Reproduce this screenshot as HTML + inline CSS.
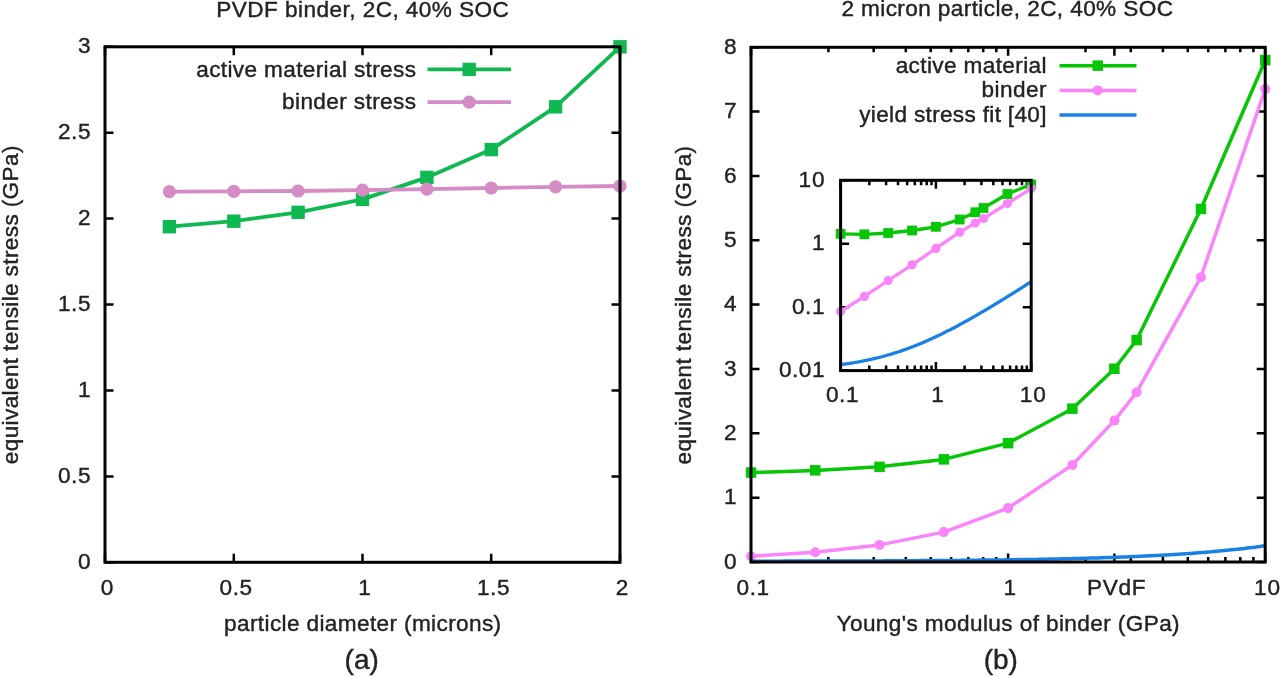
<!DOCTYPE html>
<html><head><meta charset="utf-8"><style>
html,body{margin:0;padding:0;background:#fff;width:1280px;height:677px;overflow:hidden}
svg{display:block}
#w{width:1280px;height:677px;will-change:transform}
text{font-family:"Liberation Sans",sans-serif;stroke:#222;stroke-width:0.4;paint-order:stroke}
</style></head><body><div id="w">
<svg width="1280" height="677" viewBox="0 0 1280 677" font-family="Liberation Sans, sans-serif" fill="#222"><rect width="1280" height="677" fill="#fff"/><g><path d="M105.0,562.3v-8.5M105.0,46.8v8.5M233.8,562.3v-8.5M233.8,46.8v8.5M362.5,562.3v-8.5M362.5,46.8v8.5M491.2,562.3v-8.5M491.2,46.8v8.5M620.0,562.3v-8.5M620.0,46.8v8.5M105,562.3h8.5M620,562.3h-8.5M105,476.4h8.5M620,476.4h-8.5M105,390.5h8.5M620,390.5h-8.5M105,304.5h8.5M620,304.5h-8.5M105,218.6h8.5M620,218.6h-8.5M105,132.7h8.5M620,132.7h-8.5M105,46.8h8.5M620,46.8h-8.5" stroke="#000" stroke-width="2.5" fill="none"/><polyline points="169.4,226.7 233.8,221.2 298.1,212.3 362.5,199.4 426.9,177.4 491.2,149.6 555.6,106.8 620.0,46.8" fill="none" stroke="#10b852" stroke-width="3.8" stroke-linejoin="round" stroke-linecap="butt"/><rect x="162.7" y="220.0" width="13.4" height="13.4" fill="#10b852"/><rect x="227.1" y="214.5" width="13.4" height="13.4" fill="#10b852"/><rect x="291.4" y="205.6" width="13.4" height="13.4" fill="#10b852"/><rect x="355.8" y="192.7" width="13.4" height="13.4" fill="#10b852"/><rect x="420.2" y="170.7" width="13.4" height="13.4" fill="#10b852"/><rect x="484.6" y="142.9" width="13.4" height="13.4" fill="#10b852"/><rect x="548.9" y="100.1" width="13.4" height="13.4" fill="#10b852"/><rect x="613.3" y="40.1" width="13.4" height="13.4" fill="#10b852"/><polyline points="169.4,191.7 233.8,191.3 298.1,191.0 362.5,190.1 426.9,189.2 491.2,188.0 555.6,186.8 620.0,186.0" fill="none" stroke="#d58cc4" stroke-width="3.8" stroke-linejoin="round" stroke-linecap="butt"/><circle cx="169.4" cy="191.7" r="6.6" fill="#d58cc4"/><circle cx="233.8" cy="191.3" r="6.6" fill="#d58cc4"/><circle cx="298.1" cy="191.0" r="6.6" fill="#d58cc4"/><circle cx="362.5" cy="190.1" r="6.6" fill="#d58cc4"/><circle cx="426.9" cy="189.2" r="6.6" fill="#d58cc4"/><circle cx="491.2" cy="188.0" r="6.6" fill="#d58cc4"/><circle cx="555.6" cy="186.8" r="6.6" fill="#d58cc4"/><circle cx="620.0" cy="186.0" r="6.6" fill="#d58cc4"/><rect x="105" y="46.8" width="515" height="515.5" fill="none" stroke="#000" stroke-width="3"/><text x="90.5" y="568.9" text-anchor="end" font-size="22.6" >0</text><text x="90.5" y="483.0" text-anchor="end" font-size="22.6" textLength="32.53" lengthAdjust="spacing" >0.5</text><text x="90.5" y="397.1" text-anchor="end" font-size="22.6" >1</text><text x="90.5" y="311.1" text-anchor="end" font-size="22.6" textLength="32.53" lengthAdjust="spacing" >1.5</text><text x="90.5" y="225.2" text-anchor="end" font-size="22.6" >2</text><text x="90.5" y="139.3" text-anchor="end" font-size="22.6" textLength="32.53" lengthAdjust="spacing" >2.5</text><text x="90.5" y="53.4" text-anchor="end" font-size="22.6" >3</text><text x="107.0" y="594.5" text-anchor="middle" font-size="22.6" >0</text><text x="235.8" y="594.5" text-anchor="middle" font-size="22.6" textLength="32.53" lengthAdjust="spacing" >0.5</text><text x="364.5" y="594.5" text-anchor="middle" font-size="22.6" >1</text><text x="493.2" y="594.5" text-anchor="middle" font-size="22.6" textLength="32.53" lengthAdjust="spacing" >1.5</text><text x="622.0" y="594.5" text-anchor="middle" font-size="22.6" >2</text><text x="362.6" y="16.5" text-anchor="middle" font-size="22.6" textLength="292.63" lengthAdjust="spacing" >PVDF binder, 2C, 40% SOC</text><text x="362.6" y="631.0" text-anchor="middle" font-size="22.6" textLength="276.98" lengthAdjust="spacing" >particle diameter (microns)</text><text x="361.7" y="669.0" text-anchor="middle" font-size="28" >(a)</text><text x="0.0" y="0.0" text-anchor="middle" font-size="22.6" textLength="318.64" lengthAdjust="spacing" transform="translate(17.8,304.9) rotate(-90)">equivalent tensile stress (GPa)</text><text x="416.0" y="76.8" text-anchor="end" font-size="22.6" textLength="219.77" lengthAdjust="spacing" >active material stress</text><text x="416.0" y="109.0" text-anchor="end" font-size="22.6" textLength="133.96" lengthAdjust="spacing" >binder stress</text><polyline points="427.5,69.4 511.0,69.4" fill="none" stroke="#10b852" stroke-width="3.8" stroke-linejoin="round" stroke-linecap="butt"/><rect x="462.5" y="62.7" width="13.4" height="13.4" fill="#10b852"/><polyline points="427.5,102.2 511.0,102.2" fill="none" stroke="#d58cc4" stroke-width="3.8" stroke-linejoin="round" stroke-linecap="butt"/><circle cx="469.2" cy="102.2" r="6.6" fill="#d58cc4"/><path d="M828.4,562v-5M828.4,47.3v5M873.7,562v-5M873.7,47.3v5M905.8,562v-5M905.8,47.3v5M930.7,562v-5M930.7,47.3v5M951.1,562v-5M951.1,47.3v5M968.3,562v-5M968.3,47.3v5M983.2,562v-5M983.2,47.3v5M996.3,562v-5M996.3,47.3v5M1085.5,562v-5M1085.5,47.3v5M1130.8,562v-5M1130.8,47.3v5M1162.9,562v-5M1162.9,47.3v5M1187.8,562v-5M1187.8,47.3v5M1208.2,562v-5M1208.2,47.3v5M1225.4,562v-5M1225.4,47.3v5M1240.3,562v-5M1240.3,47.3v5M1253.4,562v-5M1253.4,47.3v5M751.0,562v-8.5M751.0,47.3v8.5M1008.1,562v-8.5M1008.1,47.3v8.5M1265.2,562v-8.5M1265.2,47.3v8.5M1114.4,562v-8.5M1114.4,47.3v8.5M751,562.0h8.5M1265.2,562.0h-8.5M751,497.7h8.5M1265.2,497.7h-8.5M751,433.3h8.5M1265.2,433.3h-8.5M751,369.0h8.5M1265.2,369.0h-8.5M751,304.6h8.5M1265.2,304.6h-8.5M751,240.3h8.5M1265.2,240.3h-8.5M751,176.0h8.5M1265.2,176.0h-8.5M751,111.6h8.5M1265.2,111.6h-8.5M751,47.3h8.5M1265.2,47.3h-8.5" stroke="#000" stroke-width="2.5" fill="none"/><polyline points="751.0,472.6 815.3,470.4 879.5,466.8 943.8,459.4 1008.1,443.1 1072.4,408.7 1114.4,368.8 1136.6,340.0 1200.9,209.0 1265.2,60.2" fill="none" stroke="#06c606" stroke-width="3.5" stroke-linejoin="round" stroke-linecap="butt"/><rect x="745.8" y="467.3" width="10.5" height="10.5" fill="#06c606"/><rect x="810.0" y="465.1" width="10.5" height="10.5" fill="#06c606"/><rect x="874.3" y="461.6" width="10.5" height="10.5" fill="#06c606"/><rect x="938.6" y="454.1" width="10.5" height="10.5" fill="#06c606"/><rect x="1002.9" y="437.9" width="10.5" height="10.5" fill="#06c606"/><rect x="1067.1" y="403.4" width="10.5" height="10.5" fill="#06c606"/><rect x="1109.1" y="363.5" width="10.5" height="10.5" fill="#06c606"/><rect x="1131.4" y="334.8" width="10.5" height="10.5" fill="#06c606"/><rect x="1195.7" y="203.7" width="10.5" height="10.5" fill="#06c606"/><rect x="1260.0" y="54.9" width="10.5" height="10.5" fill="#06c606"/><polyline points="751.0,556.2 815.3,552.2 879.5,544.9 943.8,532.1 1008.1,508.1 1072.4,464.9 1114.4,420.6 1136.6,392.3 1200.9,277.2 1265.2,89.1" fill="none" stroke="#fb84fb" stroke-width="3.5" stroke-linejoin="round" stroke-linecap="butt"/><circle cx="751.0" cy="556.2" r="5" fill="#fb84fb"/><circle cx="815.3" cy="552.2" r="5" fill="#fb84fb"/><circle cx="879.5" cy="544.9" r="5" fill="#fb84fb"/><circle cx="943.8" cy="532.1" r="5" fill="#fb84fb"/><circle cx="1008.1" cy="508.1" r="5" fill="#fb84fb"/><circle cx="1072.4" cy="464.9" r="5" fill="#fb84fb"/><circle cx="1114.4" cy="420.6" r="5" fill="#fb84fb"/><circle cx="1136.6" cy="392.3" r="5" fill="#fb84fb"/><circle cx="1200.9" cy="277.2" r="5" fill="#fb84fb"/><circle cx="1265.2" cy="89.1" r="5" fill="#fb84fb"/><polyline points="751.0,561.2 753.6,561.2 756.1,561.2 758.7,561.2 761.3,561.2 763.9,561.2 766.4,561.2 769.0,561.2 771.6,561.2 774.1,561.2 776.7,561.2 779.3,561.2 781.9,561.2 784.4,561.1 787.0,561.1 789.6,561.1 792.1,561.1 794.7,561.1 797.3,561.1 799.8,561.1 802.4,561.1 805.0,561.1 807.6,561.1 810.1,561.1 812.7,561.1 815.3,561.1 817.8,561.1 820.4,561.1 823.0,561.1 825.6,561.1 828.1,561.0 830.7,561.0 833.3,561.0 835.8,561.0 838.4,561.0 841.0,561.0 843.6,561.0 846.1,561.0 848.7,561.0 851.3,561.0 853.8,561.0 856.4,561.0 859.0,560.9 861.6,560.9 864.1,560.9 866.7,560.9 869.3,560.9 871.8,560.9 874.4,560.9 877.0,560.9 879.5,560.9 882.1,560.9 884.7,560.8 887.3,560.8 889.8,560.8 892.4,560.8 895.0,560.8 897.5,560.8 900.1,560.8 902.7,560.8 905.3,560.7 907.8,560.7 910.4,560.7 913.0,560.7 915.5,560.7 918.1,560.7 920.7,560.6 923.3,560.6 925.8,560.6 928.4,560.6 931.0,560.6 933.5,560.6 936.1,560.5 938.7,560.5 941.3,560.5 943.8,560.5 946.4,560.5 949.0,560.4 951.5,560.4 954.1,560.4 956.7,560.4 959.3,560.4 961.8,560.3 964.4,560.3 967.0,560.3 969.5,560.3 972.1,560.2 974.7,560.2 977.2,560.2 979.8,560.1 982.4,560.1 985.0,560.1 987.5,560.1 990.1,560.0 992.7,560.0 995.2,560.0 997.8,559.9 1000.4,559.9 1003.0,559.9 1005.5,559.8 1008.1,559.8 1010.7,559.8 1013.2,559.7 1015.8,559.7 1018.4,559.6 1021.0,559.6 1023.5,559.6 1026.1,559.5 1028.7,559.5 1031.2,559.4 1033.8,559.4 1036.4,559.4 1039.0,559.3 1041.5,559.3 1044.1,559.2 1046.7,559.2 1049.2,559.1 1051.8,559.1 1054.4,559.0 1056.9,558.9 1059.5,558.9 1062.1,558.8 1064.7,558.8 1067.2,558.7 1069.8,558.7 1072.4,558.6 1074.9,558.5 1077.5,558.5 1080.1,558.4 1082.7,558.3 1085.2,558.3 1087.8,558.2 1090.4,558.1 1092.9,558.0 1095.5,558.0 1098.1,557.9 1100.7,557.8 1103.2,557.7 1105.8,557.6 1108.4,557.5 1110.9,557.4 1113.5,557.4 1116.1,557.3 1118.7,557.2 1121.2,557.1 1123.8,557.0 1126.4,556.9 1128.9,556.8 1131.5,556.7 1134.1,556.5 1136.7,556.4 1139.2,556.3 1141.8,556.2 1144.4,556.1 1146.9,556.0 1149.5,555.8 1152.1,555.7 1154.6,555.6 1157.2,555.4 1159.8,555.3 1162.4,555.2 1164.9,555.0 1167.5,554.9 1170.1,554.7 1172.6,554.6 1175.2,554.4 1177.8,554.2 1180.4,554.1 1182.9,553.9 1185.5,553.7 1188.1,553.6 1190.6,553.4 1193.2,553.2 1195.8,553.0 1198.4,552.8 1200.9,552.6 1203.5,552.4 1206.1,552.2 1208.6,552.0 1211.2,551.8 1213.8,551.5 1216.4,551.3 1218.9,551.1 1221.5,550.8 1224.1,550.6 1226.6,550.3 1229.2,550.1 1231.8,549.8 1234.3,549.5 1236.9,549.3 1239.5,549.0 1242.1,548.7 1244.6,548.4 1247.2,548.1 1249.8,547.8 1252.3,547.5 1254.9,547.2 1257.5,546.8 1260.1,546.5 1262.6,546.1 1265.2,545.8" fill="none" stroke="#1980e6" stroke-width="3.5" stroke-linejoin="round" stroke-linecap="butt"/><rect x="751" y="47.3" width="514.2" height="514.7" fill="none" stroke="#000" stroke-width="3"/><text x="736.5" y="568.6" text-anchor="end" font-size="22.6" >0</text><text x="736.5" y="504.3" text-anchor="end" font-size="22.6" >1</text><text x="736.5" y="439.9" text-anchor="end" font-size="22.6" >2</text><text x="736.5" y="375.6" text-anchor="end" font-size="22.6" >3</text><text x="736.5" y="311.2" text-anchor="end" font-size="22.6" >4</text><text x="736.5" y="246.9" text-anchor="end" font-size="22.6" >5</text><text x="736.5" y="182.6" text-anchor="end" font-size="22.6" >6</text><text x="736.5" y="118.2" text-anchor="end" font-size="22.6" >7</text><text x="736.5" y="53.9" text-anchor="end" font-size="22.6" >8</text><text x="752.8" y="594.5" text-anchor="middle" font-size="22.6" textLength="32.53" lengthAdjust="spacing" >0.1</text><text x="1009.9" y="594.5" text-anchor="middle" font-size="22.6" >1</text><text x="1116.2" y="594.5" text-anchor="middle" font-size="22.6" textLength="58.53" lengthAdjust="spacing" >PVdF</text><text x="1267.0" y="594.5" text-anchor="middle" font-size="22.6" textLength="26.03" lengthAdjust="spacing" >10</text><text x="1007.2" y="16.0" text-anchor="middle" font-size="22.6" textLength="331.62" lengthAdjust="spacing" >2 micron particle, 2C, 40% SOC</text><text x="1008.1" y="630.6" text-anchor="middle" font-size="22.6" textLength="343.11" lengthAdjust="spacing" >Young's modulus of binder (GPa)</text><text x="1000.8" y="669.0" text-anchor="middle" font-size="28" >(b)</text><text x="0.0" y="0.0" text-anchor="middle" font-size="22.6" textLength="318.64" lengthAdjust="spacing" transform="translate(690.8,305.2) rotate(-90)">equivalent tensile stress (GPa)</text><text x="1046.5" y="72.6" text-anchor="end" font-size="22.6" textLength="150.86" lengthAdjust="spacing" >active material</text><polyline points="1059.5,65.7 1136.5,65.7" fill="none" stroke="#06c606" stroke-width="3.5" stroke-linejoin="round" stroke-linecap="butt"/><rect x="1092.5" y="60.4" width="10.5" height="10.5" fill="#06c606"/><text x="1046.5" y="97.3" text-anchor="end" font-size="22.6" textLength="65.05" lengthAdjust="spacing" >binder</text><polyline points="1059.5,90.4 1136.5,90.4" fill="none" stroke="#fb84fb" stroke-width="3.5" stroke-linejoin="round" stroke-linecap="butt"/><circle cx="1097.7" cy="90.4" r="5" fill="#fb84fb"/><text x="1046.5" y="122.0" text-anchor="end" font-size="22.6" textLength="187.27" lengthAdjust="spacing" >yield stress fit [40]</text><polyline points="1059.5,115.1 1136.5,115.1" fill="none" stroke="#1980e6" stroke-width="3.5" stroke-linejoin="round" stroke-linecap="butt"/><rect x="840.6" y="180.3" width="190.60000000000002" height="190.3" fill="#fff"/><clipPath id="ic"><rect x="834.6" y="174.3" width="202.60000000000002" height="202.3"/></clipPath><path d="M869.3,370.6v-5M869.3,180.3v5M886.1,370.6v-5M886.1,180.3v5M898.0,370.6v-5M898.0,180.3v5M907.2,370.6v-5M907.2,180.3v5M914.8,370.6v-5M914.8,180.3v5M921.1,370.6v-5M921.1,180.3v5M926.7,370.6v-5M926.7,180.3v5M931.5,370.6v-5M931.5,180.3v5M964.6,370.6v-5M964.6,180.3v5M981.4,370.6v-5M981.4,180.3v5M993.3,370.6v-5M993.3,180.3v5M1002.5,370.6v-5M1002.5,180.3v5M1010.1,370.6v-5M1010.1,180.3v5M1016.4,370.6v-5M1016.4,180.3v5M1022.0,370.6v-5M1022.0,180.3v5M1026.8,370.6v-5M1026.8,180.3v5M840.6,370.6v-8.5M840.6,180.3v8.5M935.9,370.6v-8.5M935.9,180.3v8.5M1031.2,370.6v-8.5M1031.2,180.3v8.5M840.6,370.6h8.5M1031.2,370.6h-8.5M840.6,307.2h8.5M1031.2,307.2h-8.5M840.6,243.7h8.5M1031.2,243.7h-8.5M840.6,180.3h8.5M1031.2,180.3h-8.5" stroke="#000" stroke-width="2.5" fill="none"/><g clip-path="url(#ic)"><polyline points="840.6,233.8 864.4,234.3 888.2,233.0 912.1,230.5 935.9,226.8 959.7,219.5 975.3,212.3 983.5,208.0 1007.4,194.0 1031.2,184.5" fill="none" stroke="#06c606" stroke-width="3.3" stroke-linejoin="round" stroke-linecap="butt"/><rect x="835.7" y="228.9" width="9.8" height="9.8" fill="#06c606"/><rect x="859.5" y="229.4" width="9.8" height="9.8" fill="#06c606"/><rect x="883.3" y="228.1" width="9.8" height="9.8" fill="#06c606"/><rect x="907.2" y="225.6" width="9.8" height="9.8" fill="#06c606"/><rect x="931.0" y="221.9" width="9.8" height="9.8" fill="#06c606"/><rect x="954.8" y="214.6" width="9.8" height="9.8" fill="#06c606"/><rect x="970.4" y="207.4" width="9.8" height="9.8" fill="#06c606"/><rect x="978.6" y="203.1" width="9.8" height="9.8" fill="#06c606"/><rect x="1002.5" y="189.1" width="9.8" height="9.8" fill="#06c606"/><rect x="1026.3" y="179.6" width="9.8" height="9.8" fill="#06c606"/><polyline points="840.6,311.5 864.4,296.4 888.2,280.5 912.1,264.8 935.9,248.4 959.7,232.2 975.3,223.0 983.5,218.5 1007.4,203.5 1031.2,188.5" fill="none" stroke="#fb84fb" stroke-width="3.3" stroke-linejoin="round" stroke-linecap="butt"/><circle cx="840.6" cy="311.5" r="4.6" fill="#fb84fb"/><circle cx="864.4" cy="296.4" r="4.6" fill="#fb84fb"/><circle cx="888.2" cy="280.5" r="4.6" fill="#fb84fb"/><circle cx="912.1" cy="264.8" r="4.6" fill="#fb84fb"/><circle cx="935.9" cy="248.4" r="4.6" fill="#fb84fb"/><circle cx="959.7" cy="232.2" r="4.6" fill="#fb84fb"/><circle cx="975.3" cy="223.0" r="4.6" fill="#fb84fb"/><circle cx="983.5" cy="218.5" r="4.6" fill="#fb84fb"/><circle cx="1007.4" cy="203.5" r="4.6" fill="#fb84fb"/><circle cx="1031.2" cy="188.5" r="4.6" fill="#fb84fb"/><polyline points="840.6,364.6 841.6,364.5 842.5,364.4 843.5,364.2 844.4,364.1 845.4,364.0 846.3,363.8 847.3,363.7 848.2,363.6 849.2,363.4 850.1,363.3 851.1,363.1 852.0,363.0 853.0,362.8 853.9,362.7 854.9,362.5 855.8,362.3 856.8,362.2 857.8,362.0 858.7,361.8 859.7,361.7 860.6,361.5 861.6,361.3 862.5,361.1 863.5,360.9 864.4,360.7 865.4,360.5 866.3,360.4 867.3,360.2 868.2,360.0 869.2,359.7 870.1,359.5 871.1,359.3 872.0,359.1 873.0,358.9 874.0,358.7 874.9,358.4 875.9,358.2 876.8,358.0 877.8,357.8 878.7,357.5 879.7,357.3 880.6,357.0 881.6,356.8 882.5,356.5 883.5,356.3 884.4,356.0 885.4,355.8 886.3,355.5 887.3,355.2 888.2,354.9 889.2,354.7 890.2,354.4 891.1,354.1 892.1,353.8 893.0,353.5 894.0,353.2 894.9,352.9 895.9,352.6 896.8,352.3 897.8,352.0 898.7,351.7 899.7,351.4 900.6,351.1 901.6,350.7 902.5,350.4 903.5,350.1 904.5,349.7 905.4,349.4 906.4,349.1 907.3,348.7 908.3,348.4 909.2,348.0 910.2,347.7 911.1,347.3 912.1,346.9 913.0,346.6 914.0,346.2 914.9,345.8 915.9,345.4 916.8,345.1 917.8,344.7 918.7,344.3 919.7,343.9 920.7,343.5 921.6,343.1 922.6,342.7 923.5,342.3 924.5,341.9 925.4,341.5 926.4,341.1 927.3,340.6 928.3,340.2 929.2,339.8 930.2,339.4 931.1,338.9 932.1,338.5 933.0,338.1 934.0,337.6 934.9,337.2 935.9,336.7 936.9,336.3 937.8,335.8 938.8,335.4 939.7,334.9 940.7,334.4 941.6,334.0 942.6,333.5 943.5,333.0 944.5,332.6 945.4,332.1 946.4,331.6 947.3,331.1 948.3,330.6 949.2,330.2 950.2,329.7 951.1,329.2 952.1,328.7 953.1,328.2 954.0,327.7 955.0,327.2 955.9,326.7 956.9,326.2 957.8,325.7 958.8,325.2 959.7,324.6 960.7,324.1 961.6,323.6 962.6,323.1 963.5,322.6 964.5,322.0 965.4,321.5 966.4,321.0 967.3,320.5 968.3,319.9 969.3,319.4 970.2,318.8 971.2,318.3 972.1,317.8 973.1,317.2 974.0,316.7 975.0,316.1 975.9,315.6 976.9,315.0 977.8,314.5 978.8,313.9 979.7,313.4 980.7,312.8 981.6,312.3 982.6,311.7 983.6,311.2 984.5,310.6 985.5,310.0 986.4,309.5 987.4,308.9 988.3,308.3 989.3,307.8 990.2,307.2 991.2,306.6 992.1,306.0 993.1,305.5 994.0,304.9 995.0,304.3 995.9,303.7 996.9,303.2 997.8,302.6 998.8,302.0 999.8,301.4 1000.7,300.8 1001.7,300.3 1002.6,299.7 1003.6,299.1 1004.5,298.5 1005.5,297.9 1006.4,297.3 1007.4,296.7 1008.3,296.1 1009.3,295.5 1010.2,294.9 1011.2,294.4 1012.1,293.8 1013.1,293.2 1014.0,292.6 1015.0,292.0 1016.0,291.4 1016.9,290.8 1017.9,290.2 1018.8,289.6 1019.8,289.0 1020.7,288.4 1021.7,287.8 1022.6,287.2 1023.6,286.6 1024.5,286.0 1025.5,285.3 1026.4,284.7 1027.4,284.1 1028.3,283.5 1029.3,282.9 1030.2,282.3 1031.2,281.7" fill="none" stroke="#1980e6" stroke-width="3.3" stroke-linejoin="round" stroke-linecap="butt"/></g><rect x="840.6" y="180.3" width="190.60000000000002" height="190.3" fill="none" stroke="#000" stroke-width="3"/><text x="824.5" y="377.2" text-anchor="end" font-size="22.6" textLength="45.55" lengthAdjust="spacing" >0.01</text><text x="824.5" y="313.8" text-anchor="end" font-size="22.6" textLength="32.53" lengthAdjust="spacing" >0.1</text><text x="824.5" y="250.3" text-anchor="end" font-size="22.6" >1</text><text x="824.5" y="186.9" text-anchor="end" font-size="22.6" textLength="26.03" lengthAdjust="spacing" >10</text><text x="842.2" y="401.5" text-anchor="middle" font-size="22.6" textLength="32.53" lengthAdjust="spacing" >0.1</text><text x="937.5" y="401.5" text-anchor="middle" font-size="22.6" >1</text><text x="1032.8" y="401.5" text-anchor="middle" font-size="22.6" textLength="26.03" lengthAdjust="spacing" >10</text></g></svg>
</div></body></html>
